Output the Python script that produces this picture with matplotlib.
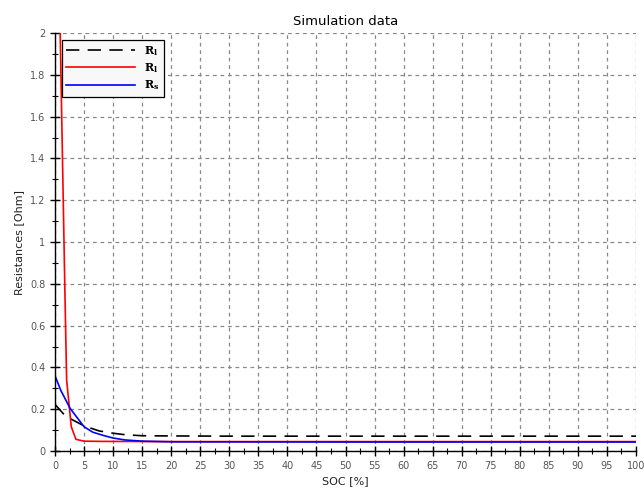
import matplotlib.pyplot as plt
from matplotlib.ticker import MultipleLocator

# SOC points and resistance values
soc_t = [0, 1.8, 5, 7.6, 10, 12, 15, 20, 30, 50, 100]
r_t = [0.223, 0.167, 0.12, 0.096, 0.085, 0.078, 0.073, 0.072, 0.071, 0.071, 0.071]

soc_l = [0.5, 1.7, 2.0, 2.8, 3.6, 5, 8, 20, 50, 100]
r_l = [2.6, 0.77, 0.34, 0.116, 0.056, 0.047, 0.046, 0.045, 0.045, 0.045]

soc_s = [0, 1, 2.6, 5, 6.5, 8.5, 10, 12, 15, 20, 50, 100]
r_s = [0.36, 0.29, 0.204, 0.116, 0.09, 0.073, 0.062, 0.053, 0.047, 0.044, 0.043, 0.043]

labels = [r'$\mathbf{R_l}$', r'$\mathbf{R_l}$', r'$\mathbf{R_s}$']

plt.rcParams['mathtext.fontset'] = 'dejavuserif'

fig = plt.figure(figsize=(6.44, 4.95), dpi=100)
ax = fig.add_axes([0.0854, 0.0889, 0.9022, 0.8444])

ax.plot(soc_t, r_t, color='black', lw=1.2, dashes=(8, 5), label=labels[0])
ax.plot(soc_l, r_l, color='#ff0000', lw=1.2, label=labels[1])
ax.plot(soc_s, r_s, color='#0000ff', lw=1.2, label=labels[2])

ax.set_xlim(0, 100)
ax.set_ylim(0, 2)
ax.xaxis.set_major_locator(MultipleLocator(5))
ax.xaxis.set_minor_locator(MultipleLocator(2.5))
ax.yaxis.set_major_locator(MultipleLocator(0.2))
ax.yaxis.set_minor_locator(MultipleLocator(0.1))
ax.yaxis.set_major_formatter(plt.FuncFormatter(lambda v, p: f'{v:g}'))

ax.grid(True, which='major', color='#888888', lw=0.9, dashes=(3, 3))
ax.spines['top'].set_visible(False)
ax.spines['right'].set_visible(False)
ax.spines['left'].set_linewidth(1.0)
ax.spines['bottom'].set_linewidth(1.0)
ax.tick_params(which='major', direction='inout', length=7, width=1,
               labelsize=7, labelcolor='#555555')
ax.tick_params(which='minor', direction='inout', length=4, width=0.8)

ax.set_title('Simulation data', fontsize=9.5, pad=6)
ax.set_xlabel('SOC [%]', fontsize=8, color='#222222')
ax.set_ylabel('Resistances [Ohm]', fontsize=8, color='#222222')

leg = ax.legend(loc='upper left', fontsize=8, frameon=True, fancybox=False,
                edgecolor='black', facecolor='#f8f8f8', framealpha=1,
                handlelength=6.2, labelspacing=0.3, borderaxespad=0.6)
leg.get_frame().set_linewidth(0.9)

fig.savefig('out.png', dpi=100)
